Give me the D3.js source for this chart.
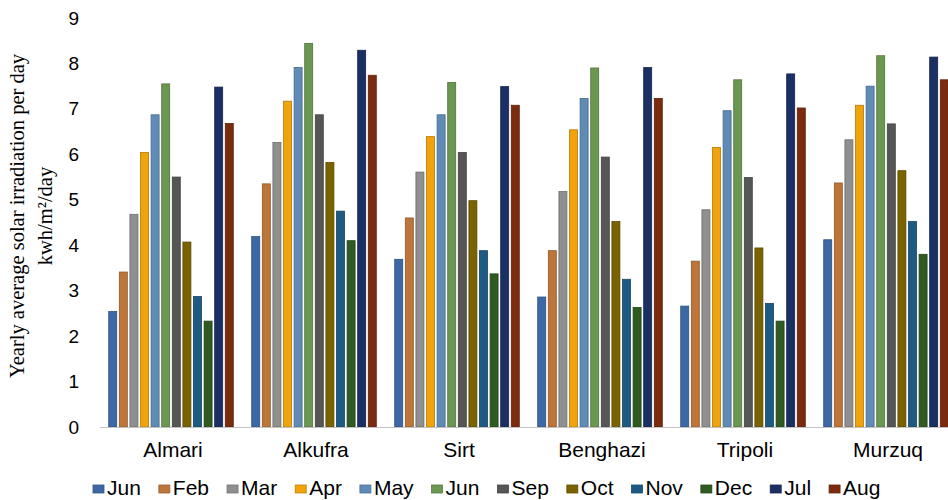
<!DOCTYPE html>
<html>
<head>
<meta charset="utf-8">
<script src="https://cdn.jsdelivr.net/npm/d3@7"></script>
<style>
  body { margin: 0; background: #fff; }
  svg { display: block; }
  .tick text { font-family: "Liberation Sans", Arial, sans-serif; fill: #000; }
</style>
</head>
<body>
<script>
// data
var cities = ["Almari", "Alkufra", "Sirt", "Benghazi", "Tripoli", "Murzuq"];
var months = ["Jun", "Feb", "Mar", "Apr", "May", "Jun", "Sep", "Oct", "Nov", "Dec", "Jul", "Aug"];
var monthColors = ["#3c69a6", "#bd753a", "#8f8f8f", "#f0a30a", "#5f8cb6", "#6a9850",
                   "#565656", "#7a6200", "#1d5b85", "#2f5a22", "#1a3064", "#7c2c0e"];

var almari   = [2.54, 3.41, 4.68, 6.04, 6.87, 7.55, 5.50, 4.07, 2.87, 2.33, 7.48, 6.68];
var alkufra  = [4.19, 5.35, 6.26, 7.17, 7.91, 8.44, 6.87, 5.82, 4.75, 4.10, 8.29, 7.74];
var sirt     = [3.69, 4.60, 5.61, 6.39, 6.87, 7.58, 6.04, 4.98, 3.88, 3.37, 7.49, 7.08];
var benghazi = [2.86, 3.88, 5.18, 6.54, 7.23, 7.90, 5.94, 4.52, 3.25, 2.63, 7.91, 7.23];
var tripoli  = [2.66, 3.65, 4.78, 6.15, 6.96, 7.64, 5.49, 3.94, 2.72, 2.33, 7.77, 7.02];
var murzuq   = [4.12, 5.37, 6.32, 7.08, 7.50, 8.17, 6.67, 5.64, 4.52, 3.80, 8.14, 7.64];

var yTicks = [0, 1, 2, 3, 4, 5, 6, 7, 8, 9];
var yTitle = ["Yearly average solar irradiation per day", "kwh/m\u00b2/day"];

var seriesByCity = [almari, alkufra, sirt, benghazi, tripoli, murzuq];

var data = cities.map(function (c, i) {
    return {
        city: c,
        values: seriesByCity[i].map(function (v, j) { return { idx: j, value: v }; })
    };
});

var W = 948, H = 500;

var svg = d3.select("body")
    .append("svg")
    .attr("width", W)
    .attr("height", H);

var x0 = d3.scaleBand().domain(cities).range([99.5, 957.5]).padding(0),
    x1 = d3.scaleBand().domain(d3.range(months.length)).range([0, x0.step()])
        .paddingInner(0.245).paddingOuter(0.87),
    y = d3.scaleLinear().domain([0, 9]).range([427, 18]);

// y axis labels only
var yAxis = svg.append("g")
    .attr("transform", "translate(100,0)")
    .call(d3.axisLeft(y).tickValues(yTicks).tickSize(0).tickPadding(21));
yAxis.select(".domain").remove();
yAxis.selectAll("text").style("font-size", "19px");

// bars
var groups = svg.append("g")
    .selectAll("g")
    .data(data)
    .enter().append("g")
    .attr("transform", function (d) { return "translate(" + x0(d.city) + ",0)"; });

groups.selectAll("rect")
    .data(function (d) { return d.values; })
    .enter().append("rect")
    .attr("x", function (d) { return x1(d.idx); })
    .attr("y", function (d) { return y(d.value); })
    .attr("width", x1.bandwidth())
    .attr("height", function (d) { return y(0) - y(d.value); })
    .attr("fill", function (d) { return monthColors[d.idx]; })
    .attr("stroke", function (d) { return d3.color(monthColors[d.idx]).darker(0.8); })
    .attr("stroke-width", 0.8);

// category axis
var xAxis = svg.append("g")
    .attr("transform", "translate(0," + y(0) + ")")
    .call(d3.axisBottom(x0).tickSize(0).tickPadding(15));
xAxis.select(".domain").attr("stroke", "#c4c4c4").attr("stroke-width", 1.2);
xAxis.selectAll("text").style("font-size", "21px").attr("dx", 2);

// y title
var title = svg.append("text")
    .attr("transform", "translate(0,216) rotate(-90)")
    .attr("text-anchor", "middle")
    .style("font-family", "'Liberation Serif', 'Times New Roman', serif")
    .style("font-size", "20.5px")
    .attr("fill", "#000");
title.selectAll("tspan")
    .data(yTitle)
    .enter().append("tspan")
    .attr("x", 0)
    .attr("y", function (d, i) { return 24 + i * 28; })
    .text(function (d) { return d; });

// legend
var legend = svg.append("g")
    .style("font-family", "'Liberation Sans', Arial, sans-serif")
    .style("font-size", "21px");

var lx = 93;
months.forEach(function (m, i) {
    var item = legend.append("g").attr("transform", "translate(" + lx + ",0)");
    item.append("rect")
        .attr("x", 0).attr("y", 485)
        .attr("width", 11).attr("height", 8)
        .attr("fill", monthColors[i])
        .attr("stroke", d3.color(monthColors[i]).darker(0.6))
        .attr("stroke-width", 0.8);
    var t = item.append("text")
        .attr("x", 14).attr("y", 495)
        .attr("fill", "#000")
        .text(m);
    lx += 14 + t.node().getComputedTextLength() + 18;
});
</script>
</body>
</html>
